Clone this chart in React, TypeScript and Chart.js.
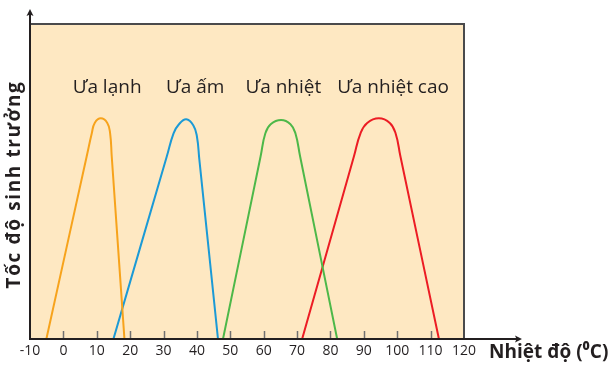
import React, { useEffect, useRef } from "react";
import { Chart, registerables } from "chart.js";

Chart.register(...registerables);

// ---- data (temperature °C, relative growth rate 0..100) ----
const xTicks = [-10, 0, 10, 20, 30, 40, 50, 60, 70, 80, 90, 100, 110, 120];

const coldT = [-5.1, 6.99, 8.51, 9.39, 11.21, 13.15, 14.0, 14.48, 18.29];
const coldV = [0, 58, 65.3, 68.6, 70.06, 68.6, 65.3, 58, 0];

const warmT = [14.99, 30.99, 33.0, 34.56, 36.8, 38.94, 40.01, 40.72, 46.31];
const warmV = [0, 58, 65.3, 68.1, 69.75, 67.8, 64.22, 57, 0];

const hotT = [47.81, 59.08, 60.5, 62.09, 65.21, 68.02, 69.5, 70.9, 82.01];
const hotV = [0, 58, 65.3, 68.2, 69.52, 68.2, 65.3, 58, 0];

const veryHotT = [71.51, 87.04, 89.0, 91.01, 94.49, 97.77, 99.5, 100.95, 112.49];
const veryHotV = [0, 58, 65.3, 68.6, 70.06, 68.6, 65.3, 58, 0];

const groupLabels = ["Ưa lạnh", "Ưa ấm", "Ưa nhiệt", "Ưa nhiệt cao"];
const labelT = [13.1, 39.5, 65.9, 98.75];
const labelV = 79.7;

const yTitle = "Tốc độ sinh trưởng";
const xTitle = "Nhiệt độ (⁰C)";

const colors = ["#f7a31c", "#1b9ad6", "#4db849", "#ec1c24"];
const TEXT = "#231f20";
const FONT = "'Open Sans', 'Noto Sans', sans-serif";

function toPoints(t: number[], v: number[]) {
  return t.map((x, i) => ({ x, y: v[i] }));
}

const decorPlugin = {
  id: "decor",
  beforeDatasetsDraw(chart: any) {
    const { ctx, chartArea } = chart;
    ctx.save();
    ctx.fillStyle = "#fee8c2";
    ctx.fillRect(chartArea.left, chartArea.top, chartArea.right - chartArea.left, chartArea.bottom - chartArea.top);
    ctx.restore();
  },
  afterDatasetsDraw(chart: any) {
    const { ctx, chartArea } = chart;
    const xs = chart.scales.x;
    const ys = chart.scales.y;
    const { left, right, top, bottom } = chartArea;
    ctx.save();

    // tick marks inside plot
    ctx.strokeStyle = "#707070";
    ctx.lineWidth = 1.5;
    xs.ticks.forEach((t: any) => {
      if (t.value <= xs.min || t.value >= xs.max) return;
      const px = Math.round(xs.getPixelForValue(t.value)) + 0.5;
      ctx.beginPath();
      ctx.moveTo(px, bottom);
      ctx.lineTo(px, bottom - 8);
      ctx.stroke();
    });

    // top and right border
    ctx.strokeStyle = "#4a4a4c";
    ctx.lineWidth = 2;
    ctx.beginPath();
    ctx.moveTo(left, top);
    ctx.lineTo(right, top);
    ctx.lineTo(right, bottom);
    ctx.stroke();

    // axes with arrows
    ctx.strokeStyle = "#231f20";
    ctx.fillStyle = "#231f20";
    ctx.lineWidth = 2;
    const yTip = 9;
    const xTip = 522;
    ctx.beginPath();
    ctx.moveTo(left, bottom + 1);
    ctx.lineTo(left, yTip + 4);
    ctx.moveTo(left - 1, bottom);
    ctx.lineTo(xTip - 4, bottom);
    ctx.stroke();
    ctx.beginPath();
    ctx.moveTo(left, yTip);
    ctx.lineTo(left - 3.5, yTip + 7);
    ctx.lineTo(left, yTip + 5.5);
    ctx.lineTo(left + 3.5, yTip + 7);
    ctx.closePath();
    ctx.fill();
    ctx.beginPath();
    ctx.moveTo(xTip, bottom);
    ctx.lineTo(xTip - 7, bottom - 3.5);
    ctx.lineTo(xTip - 5.5, bottom);
    ctx.lineTo(xTip - 7, bottom + 3.5);
    ctx.closePath();
    ctx.fill();

    // group labels
    ctx.fillStyle = TEXT;
    ctx.font = `19px ${FONT}`;
    ctx.textAlign = "center";
    ctx.textBaseline = "middle";
    groupLabels.forEach((lab, i) => {
      ctx.fillText(lab, xs.getPixelForValue(labelT[i]), ys.getPixelForValue(labelV));
    });

    // x title
    ctx.font = `bold 19px ${FONT}`;
    ctx.textAlign = "left";
    ctx.fillText(xTitle, 489, 353);

    // y title
    ctx.translate(15, 185.5);
    ctx.rotate(-Math.PI / 2);
    ctx.textAlign = "center";
    ctx.font = `bold 19px ${FONT}`;
    (ctx as any).letterSpacing = "1.6px";
    ctx.fillText(yTitle, 1, 0);

    ctx.restore();
  },
};

export default function App() {
  const ref = useRef<HTMLCanvasElement | null>(null);
  useEffect(() => {
    if (!ref.current) return;
    const chart = new Chart(ref.current, {
      type: "scatter",
      data: {
        datasets: [
          [coldT, coldV],
          [warmT, warmV],
          [hotT, hotV],
          [veryHotT, veryHotV],
        ].map(([t, v], i) => ({
          label: groupLabels[i],
          data: toPoints(t, v),
          showLine: true,
          borderColor: colors[i],
          backgroundColor: colors[i],
          borderWidth: 2,
          pointRadius: 0,
          pointHoverRadius: 0,
          tension: 0.45,
          fill: false,
        })),
      },
      options: {
        responsive: false,
        animation: false,
        events: [],
        layout: { padding: { left: 30, right: 152, top: 24, bottom: 4.2 } },
        plugins: { legend: { display: false }, tooltip: { enabled: false }, title: { display: false } },
        scales: {
          x: {
            type: "linear",
            min: -10,
            max: 120,
            afterBuildTicks: (s: any) => {
              s.ticks = xTicks.map((v) => ({ value: v }));
            },
            grid: { display: false, drawTicks: false },
            border: { display: false },
            ticks: {
              autoSkip: false,
              maxRotation: 0,
              padding: 4,
              color: TEXT,
              font: { family: FONT, size: 14 },
            },
          },
          y: { type: "linear", display: false, min: 0, max: 100 },
        },
      },
      plugins: [decorPlugin],
    });
    return () => chart.destroy();
  }, []);
  return (
    <div style={{ position: "absolute", left: 0, top: 0, width: 616, height: 368 }}>
      <canvas ref={ref} width={616} height={368} />
    </div>
  );
}
